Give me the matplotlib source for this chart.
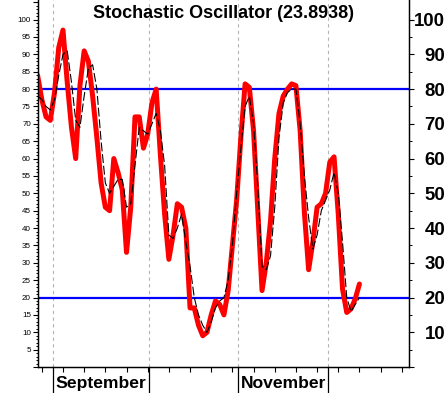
import numpy as np
import matplotlib
matplotlib.use('Agg')
import matplotlib.pyplot as plt
import matplotlib.transforms as mtransforms

# trading-day index, -1 is just left of the visible window
days = list(range(-1, 76))

# %K (thick red)
k_line = [84, 77, 72, 71, 79, 92, 97, 82, 69, 60,
          81, 91, 88, 78, 66, 53, 46, 45, 60, 56,
          51, 33, 46, 72, 72, 63, 67, 76, 80, 61,
          44, 31, 38, 47, 46, 40, 17, 17, 12, 9,
          10, 15, 19, 18, 15, 22, 35, 48, 66, 81.5,
          80.5, 68, 45, 22, 30, 42, 60, 73, 78, 80,
          81.5, 81, 68, 44.5, 28, 36, 46, 47, 50, 59,
          60.5, 44, 22.5, 15.7, 16.7, 19.6, 23.89]

# %D (thin dashed black)
d_line = [78, 77, 75, 74, 77, 84, 90, 91, 82, 71,
          69, 78, 86, 87, 80, 65, 53, 50, 52, 54,
          54, 46, 47, 58, 69, 68, 67, 70, 73, 68,
          58, 38, 37, 40, 44, 36, 29, 20, 15, 12,
          10, 13, 17, 19, 20, 25, 35, 50, 63, 75,
          78, 70, 52, 29, 28, 32, 46, 66, 76, 79,
          80, 80, 70, 55, 43, 34, 38, 45, 48, 51,
          56, 50, 36, 20, 16, 18, 20]

month_starts = [2.6, 25.3, 46.3, 67.6]
month_labels = ['September', '', 'November', '']
week_ticks = list(range(0, 86, 5))
levels = [80, 20]
title = 'Stochastic Oscillator (23.8938)'

bold = {'family': 'Liberation Sans', 'weight': 'bold'}

fig = plt.figure(figsize=(4.47, 3.93), dpi=100)
ax = fig.add_axes([38 / 447, 26 / 393, 371 / 447, 367 / 393])

ax.set_xlim(-0.9, 86.7)
ax.set_ylim(0, 105.65)

for m in month_starts:
    ax.axvline(m, color='#b4b4b4', lw=0.8, ls=(0, (3, 3)), zorder=1)
for lv in levels:
    ax.axhline(lv, color='#0000ff', lw=1.6, zorder=2)

ax.plot(days, k_line, color='#ff0000', lw=3.6, solid_joinstyle='round',
        solid_capstyle='round', zorder=3)
ax.plot(days, d_line, color='black', lw=0.8, ls=(0, (8, 2.5)), zorder=4)

ax.text(0.5, 0.986, title, transform=ax.transAxes, ha='center', va='top',
        fontsize=13, **bold)

# x axis: weekly ticks, long month separators and month names
ax.set_xticks(week_ticks)
ax.set_xticklabels([''] * len(week_ticks))
ax.tick_params(axis='x', direction='out', length=3.6, width=0.8)
trans = mtransforms.blended_transform_factory(ax.transData, ax.transAxes)
for m, lab in zip(month_starts, month_labels):
    ax.plot([m, m], [0, -0.075], color='black', lw=0.9, transform=trans, clip_on=False)
    if lab:
        ax.text(m + 0.6, -0.045, lab, transform=trans, ha='left', va='center',
                fontsize=12.6, **bold)

# left axis: small labels every 5, minor every 1
left_ticks = list(range(0, 106, 5))
ax.set_yticks(left_ticks)
ax.set_yticklabels(['' if (v == 0 or v > 100) else str(v) for v in left_ticks],
                   fontsize=5.8, family='Liberation Sans')
ax.set_yticks(range(0, 106), minor=True)
ax.tick_params(axis='y', which='major', direction='out', length=3.6, width=0.8, pad=1.5)
ax.tick_params(axis='y', which='minor', direction='out', length=1.6, width=0.7)

# right axis: bold labels every 10
ax2 = ax.twinx()
ax2.set_ylim(ax.get_ylim())
right_ticks = list(range(0, 101, 10))
ax2.set_yticks(right_ticks)
ax2.set_yticklabels(['' if v == 0 else str(v) for v in right_ticks], fontsize=13.4, **bold)
ax2.set_yticks(range(5, 101, 10), minor=True)
ax2.tick_params(axis='y', which='major', direction='out', length=3.6, width=0.8, pad=22.5)
ax2.tick_params(axis='y', which='minor', direction='out', length=2.2, width=0.7)
for lab in ax2.get_yticklabels():
    lab.set_horizontalalignment('right')

for a in (ax, ax2):
    a.spines['top'].set_visible(False)
    for s in ('left', 'right', 'bottom'):
        a.spines[s].set_linewidth(0.9)

fig.savefig('out.png', dpi=100)
